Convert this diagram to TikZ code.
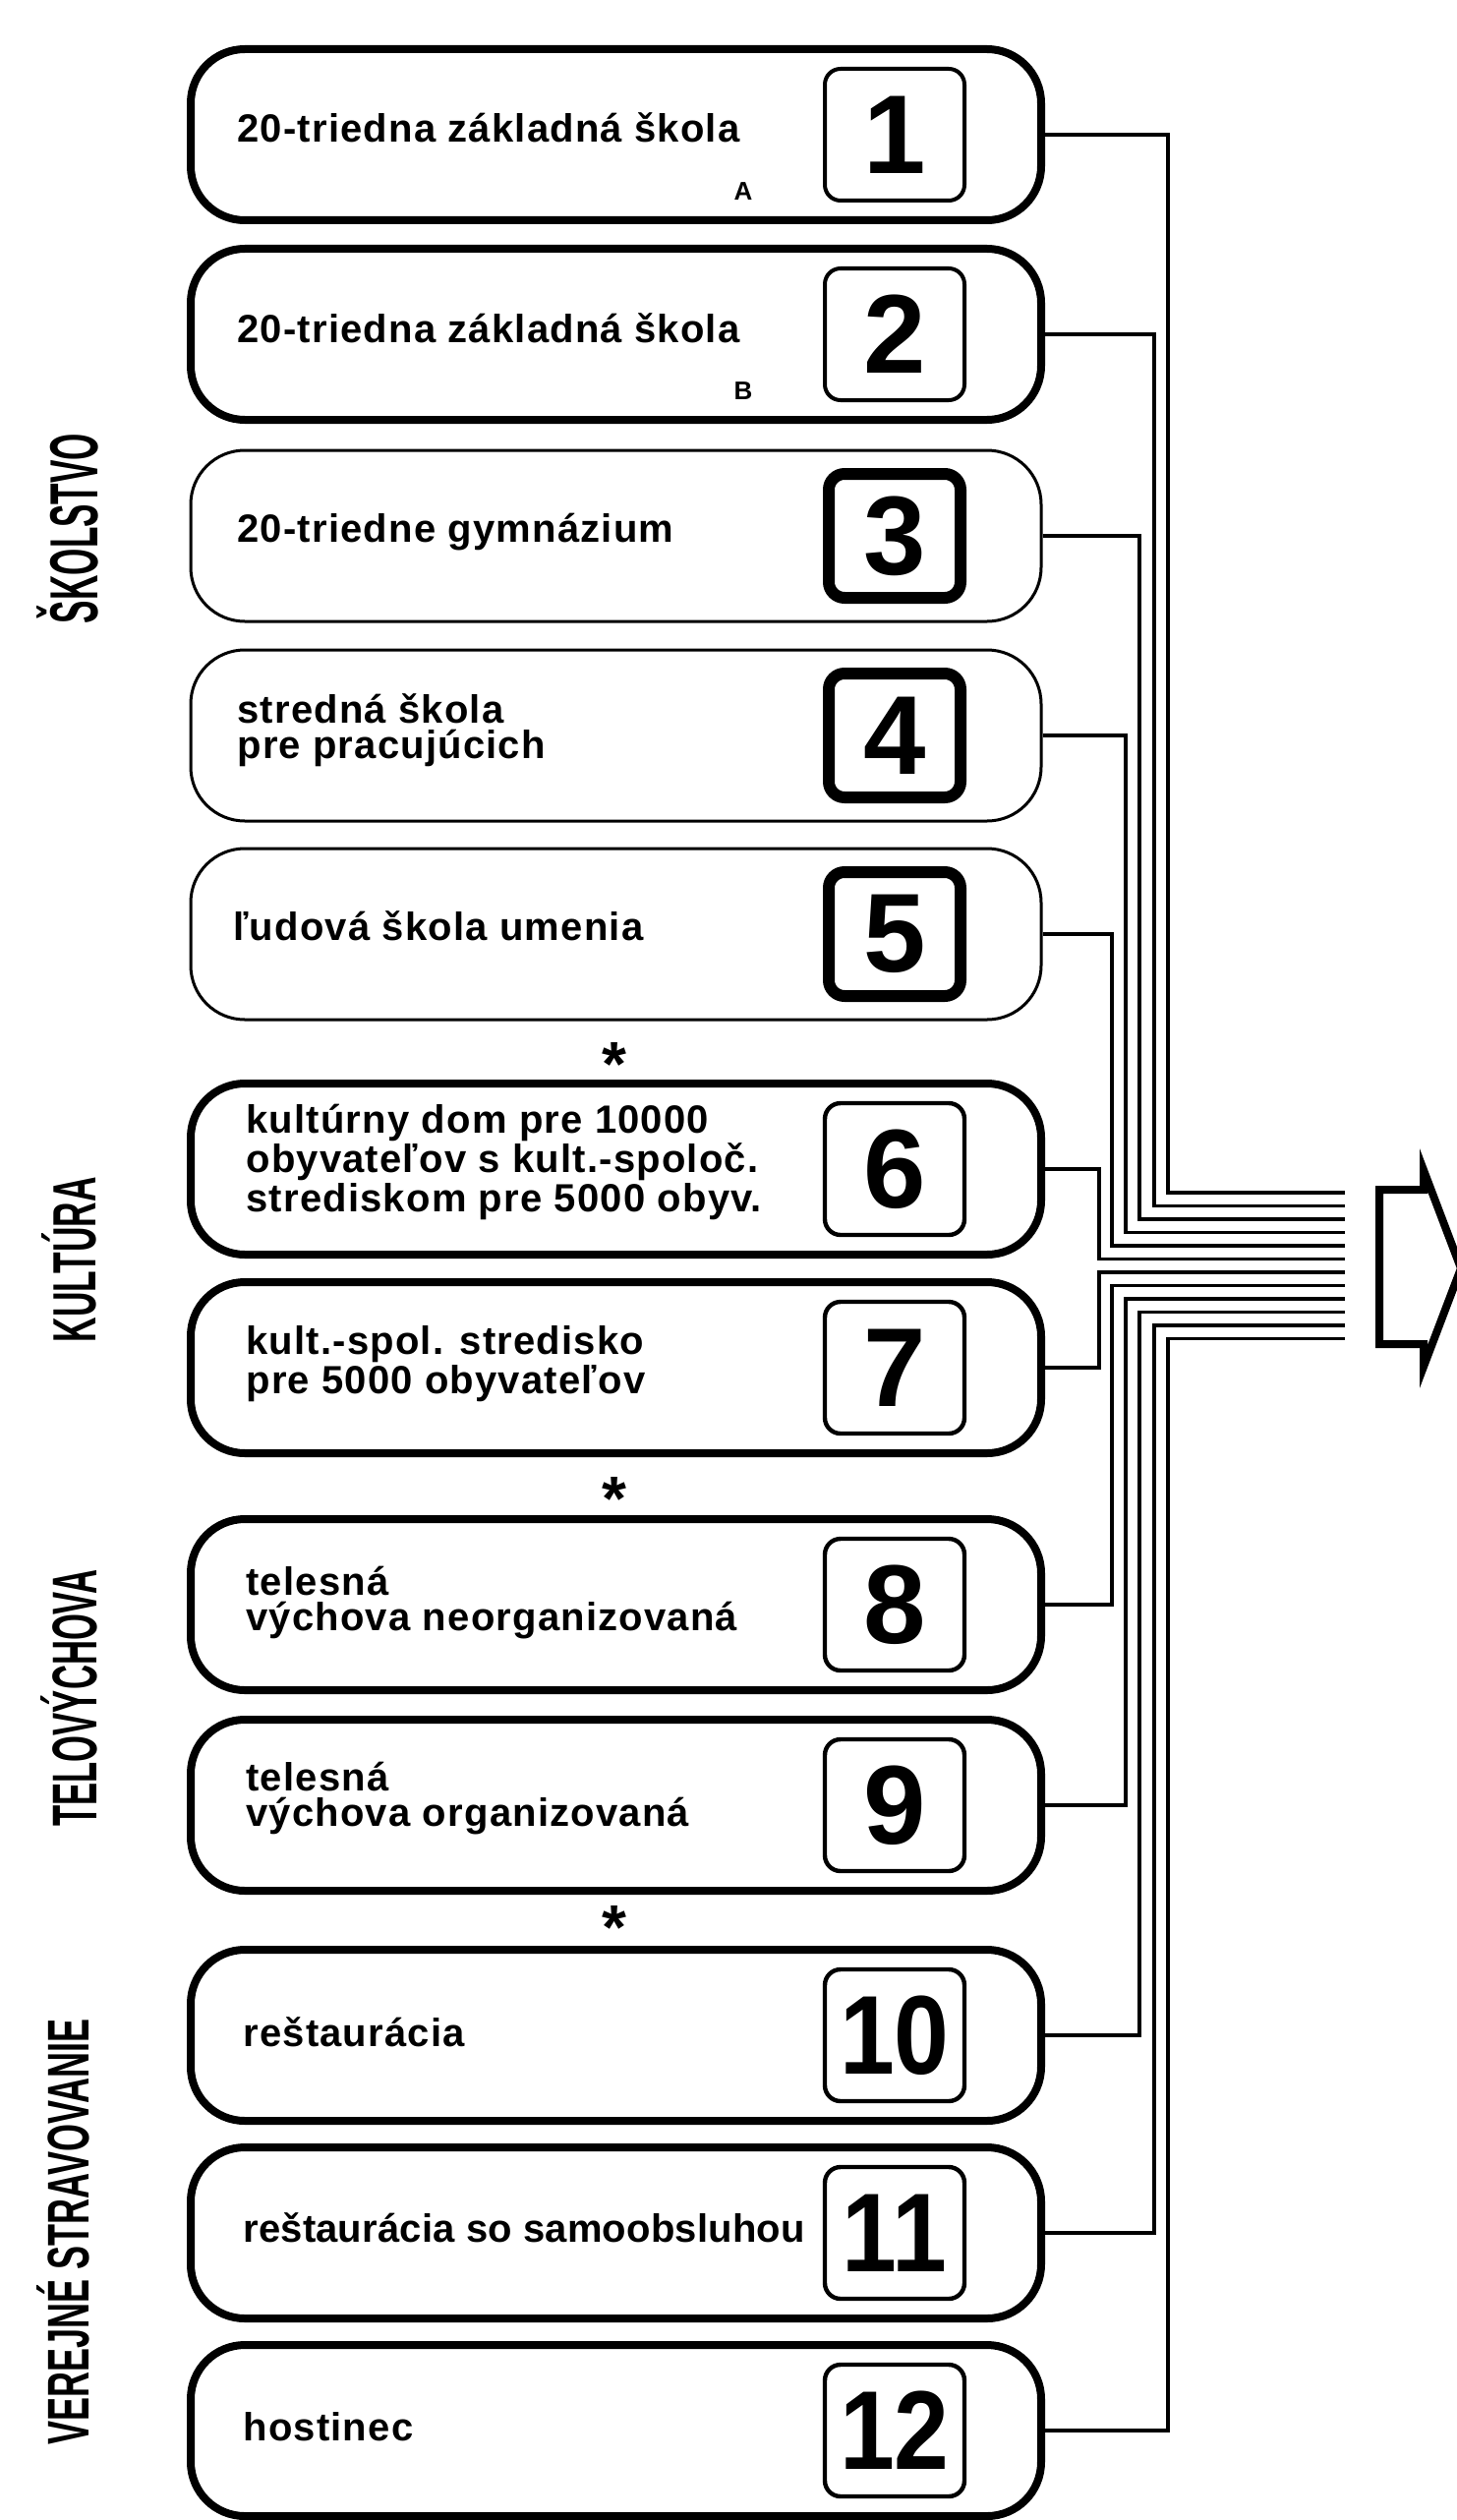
\documentclass[tikz,border=0pt]{standalone}
\usepackage{fontspec}
\setmainfont{Liberation Sans}
\newfontfamily\boxfont{Liberation Sans}[LetterSpace=3]
\newfontfamily\boxfontb{Liberation Sans}[LetterSpace=0.5]
\newfontfamily\labfont{Liberation Sans}
\usetikzlibrary{calc}
\newlength\px \setlength\px{0.5pt}
\begin{document}
\begin{tikzpicture}[x=0.5pt,y=-0.5pt,
  bigbox/.style={draw, rounded corners=27.5pt, minimum width=432.5pt, minimum height=87pt, inner sep=0pt},
  thickbox/.style={bigbox, line width=4pt},
  thinbox/.style={bigbox, line width=1.5pt},
  numbox/.style={draw, rounded corners=8pt, inner sep=0pt, font=\fontsize{57pt}{60pt}\selectfont\bfseries},
  numthin/.style={numbox, line width=2pt, minimum width=71pt, minimum height=67pt},
  nummid/.style={numbox, line width=2.2pt, minimum width=71pt, minimum height=67pt},
  numthick/.style={numbox, line width=6pt, minimum width=67pt, minimum height=63pt},
  boxtext/.style={anchor=base west, align=left, inner sep=0pt, font=\boxfont\bfseries\fontsize{20pt}{18pt}\selectfont},
  small/.style={inner sep=0pt, font=\bfseries\fontsize{13pt}{13pt}\selectfont},
  star/.style={anchor=base, inner sep=0pt, font=\bfseries\fontsize{32pt}{32pt}\selectfont},
  grp/.style={rotate=90, inner sep=0pt},
  conn/.style={line width=1.6pt},
  arrowshape/.style={line width=4pt, line join=miter}]
\fill[white] (0,0) rectangle (1482,2563);
\clip (0,0) rectangle (1482,2563);

% boxes and number boxes
\foreach \i/\y/\st/\ns/\lab in {
  1/137/thickbox/numthin/1, 2/340/thickbox/numthin/2,
  3/545/thinbox/numthick/3, 4/748/thinbox/numthick/4, 5/950/thinbox/numthick/5,
  6/1189/thickbox/nummid/6, 7/1391/thickbox/nummid/7,
  8/1632/thickbox/nummid/8, 9/1836/thickbox/nummid/9,
  10/2070/thickbox/nummid/{\scalebox{0.88}[1]{10}},
  11/2271/thickbox/nummid/{\scalebox{0.88}[1]{11}},
  12/2472/thickbox/nummid/{\scalebox{0.88}[1]{12}}}
{
  \node[\st] (b\i) at (626.5,\y) {};
  \node[\ns] (n\i) at (910,\y) {\lab};
}

% texts (anchor = baseline of last line)
\node[boxtext] (t1) at (241,145) {20-triedna základná škola};
\node[small] (a1) at (756,195) {A};
\node[boxtext] (t2) at (241,348) {20-triedna základná škola};
\node[small] (a2) at (756,398) {B};
\node[boxtext] (t3) at (241,551) {20-triedne gymnázium};
\node[boxtext] (t4) at (241,771) {stredná škola\\pre pracujúcich};
\node[boxtext] (t5) at (237,956) {ľudová škola umenia};
\node[boxtext] (t6) at (250,1232) {kultúrny dom pre 10000\\obyvateľov s kult.-spoloč.\\strediskom pre 5000 obyv.};
\node[boxtext] (t7) at (250,1417) {kult.-spol. stredisko\\pre 5000 obyvateľov};
\node[boxtext] (t8) at (250,1658) {telesná\\výchova neorganizovaná};
\node[boxtext] (t9) at (250,1857) {telesná\\výchova organizovaná};
\node[boxtext] (t10) at (247,2081) {reštaurácia};
\node[boxtext, font=\boxfontb\bfseries\fontsize{20pt}{18pt}\selectfont] (t11) at (247,2280) {reštaurácia so samoobsluhou};
\node[boxtext] (t12) at (247,2482) {hostinec};

% stars
\node[star] (s1) at (625,1104) {*};
\node[star] (s2) at (625,1546) {*};
\node[star] (s3) at (625,1982) {*};

% group labels
\node[grp] (g1) at (68.5,537.5) {\resizebox{193\px}{62\px}{\labfont\bfseries ŠKOLSTVO}};
\node[grp] (g2) at (70,1281) {\resizebox{168\px}{55\px}{\labfont\bfseries KULTÚRA}};
\node[grp] (g3) at (70,1727) {\resizebox{261\px}{57\px}{\labfont\bfseries TELOVÝCHOVA}};
\node[grp] (g4) at (64,2270) {\resizebox{433\px}{53\px}{\labfont\bfseries VEREJNÉ STRAVOVANIE}};

% connectors
\foreach \i/\vx in {1/1188,2/1174,3/1159,4/1145,5/1131,6/1118,7/1118,8/1131,9/1145,10/1159,11/1174,12/1188}
{
  \pgfmathsetmacro\ey{1213+13.5*(\i-1)}
  \coordinate (v\i) at (\vx,\ey);
  \coordinate (e\i) at (1368,\ey);
  \draw[conn] (b\i.east) -| (v\i) -- (e\i);
}

% arrow
\draw[arrowshape] (1403,1210) -- (1448,1210) -- (1448,1190) -- (1486,1290)
  -- (1448,1390) -- (1448,1367) -- (1403,1367) -- cycle;
\end{tikzpicture}
\end{document}
